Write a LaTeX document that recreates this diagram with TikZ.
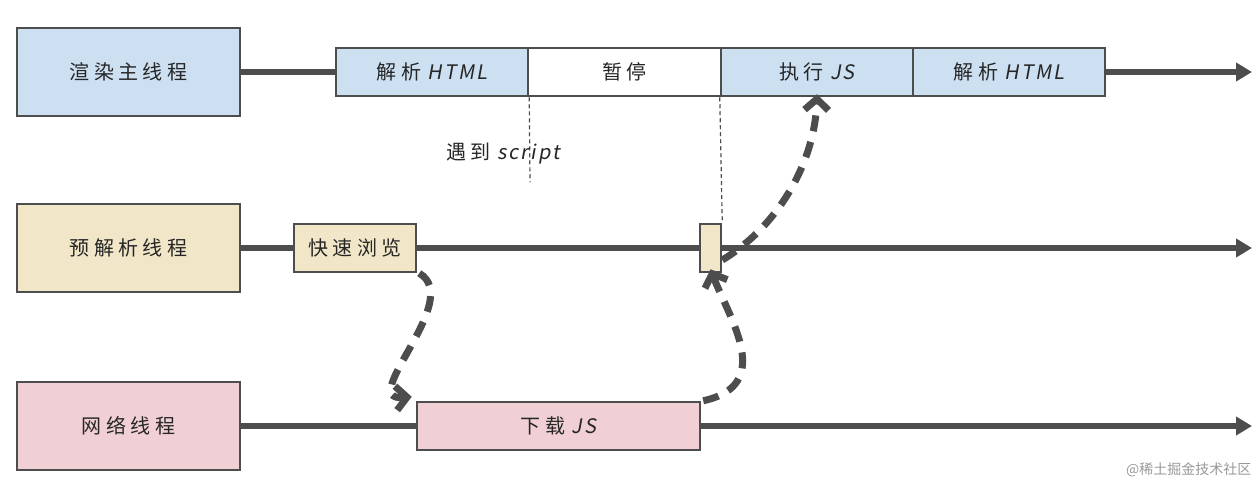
\documentclass[tikz,border=0pt]{standalone}
\usepackage{fontspec}
\newfontfamily\cjk[LetterSpace=22]{Noto Sans CJK SC}
\newfontfamily\lat[LetterSpace=10,FakeSlant=0.18]{Noto Sans CJK SC}
\usetikzlibrary{arrows.meta}
\definecolor{ink}{HTML}{4D4D4D}
\definecolor{bluef}{HTML}{CCE0F1}
\definecolor{yelf}{HTML}{F1E6C7}
\definecolor{pinkf}{HTML}{F1D0D5}
\begin{document}
\begin{tikzpicture}[x=1pt,y=-1pt,
 box/.style={draw=ink,line width=2.5pt,inner sep=0pt,font=\cjk\fontsize{20}{24}\selectfont,text=black!85},
 thread/.style={box,minimum width=223pt,minimum height=88pt},
 seg/.style={box,minimum height=48pt},
 track/.style={draw=ink,line width=6pt},
 trackarrow/.style={track,-{Triangle[length=16pt,width=18pt]}},
 hint/.style={draw=ink,line width=1.2pt,dash pattern=on 4pt off 3pt},
 flow/.style={draw=ink,line width=7pt,dash pattern=on 16pt off 11pt,-{Straight Barb[length=11pt,width=24pt]}},
 label/.style={font=\cjk\fontsize{20}{24}\selectfont,text=black!85,inner sep=1pt}
]
\useasboundingbox[fill=white] (0,0) rectangle (1260,488);
% thread boxes
\node[thread,fill=bluef] (L1) at (128.5,72) {渲染主线程};
\node[thread,fill=yelf] (L2) at (128.5,248) {预解析线程};
\node[thread,fill=pinkf] (L3) at (128.5,426) {网络线程};
% row 1
\node[seg,fill=bluef,minimum width=192pt] (p1) at (432,72) {解析{\lat\ HTML}};
\node[seg,fill=white,minimum width=193pt] (p2) at (624.5,72) {暂停};
\node[seg,fill=bluef,minimum width=192pt] (p3) at (817,72) {执行{\lat\ JS}};
\node[seg,fill=bluef,minimum width=192pt] (p4) at (1009,72) {解析{\lat\ HTML}};
% row 2
\node[seg,fill=yelf,minimum width=122pt] (fast) at (355,248) {快速浏览};
\node[seg,fill=yelf,minimum width=21pt] (sm) at (710.5,248) {};
% row 3
\node[seg,fill=pinkf,minimum width=283pt] (dl) at (558.5,426) {下载{\lat\ JS}};
% ends
\coordinate (e1) at (1252,72);
\coordinate (e2) at (1252,248);
\coordinate (e3) at (1252,426);
\coordinate (d1) at (530,182);
% tracks
\draw[track] (L1.east) -- (p1.west);
\draw[trackarrow] (p4.east) -- (e1);
\draw[track] (L2.east) -- (fast.west);
\draw[track] (fast.east) -- (sm.west);
\draw[trackarrow] (sm.east) -- (e2);
\draw[track] (L3.east) -- (dl.west);
\draw[trackarrow] (dl.east) -- (e3);
% hints
\draw[hint] (p1.south east) -- (d1);
\draw[hint] (p3.south west) -- (sm.north east);
\node[label] (t) at (503,154) {遇到{\lat\ script}};
% flows
\draw[flow] ([xshift=2pt]fast.south east) .. controls (465,300) and (355,402) .. ([xshift=-4pt,yshift=4pt]dl.north west);
\draw[flow] ([xshift=2pt]dl.north east) .. controls (775,385) and (730,320) .. ([yshift=4pt]sm.south);
\draw[flow] ([yshift=-12pt]sm.east) .. controls (780,225) and (815,160) .. ([yshift=3pt]p3.south);
% watermark
\node[font=\fontspec{Noto Sans CJK SC}\fontsize{14}{16}\selectfont,text=black!40,anchor=east] (wm) at (1255,470) {@稀土掘金技术社区};
\end{tikzpicture}
\end{document}
